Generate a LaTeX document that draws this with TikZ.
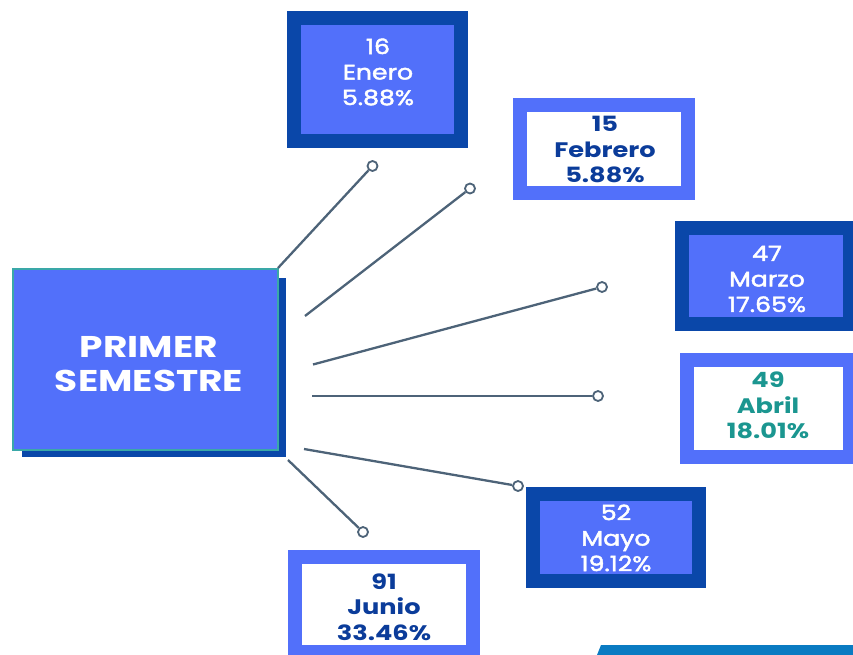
\documentclass[tikz,border=0pt]{standalone}
\usepackage{fontspec}
\setmainfont{Poppins}[FakeStretch=1.22]
\newfontfamily\medfont{Poppins}[FakeStretch=1.2, FakeBold=2.2]
\newfontfamily\bigfont{Poppins}[FakeStretch=1.25]
\definecolor{dkblue}{HTML}{0A47A9}
\definecolor{ltblue}{HTML}{5270FA}
\definecolor{navytxt}{HTML}{0B3C9A}
\definecolor{tealtxt}{HTML}{1B9690}
\definecolor{tealedge}{HTML}{3AA8A8}
\definecolor{linkc}{HTML}{4D6378}
\definecolor{barblue}{HTML}{0A7BC2}
\tikzset{
  darkbox/.style={rectangle, draw=dkblue, fill=ltblue, line width=14pt, inner sep=0pt},
  lightbox/.style={rectangle, draw=ltblue, fill=white, line width=14pt, inner sep=0pt},
  whitetxt/.style={align=center, inner sep=0pt, text=white, font=\medfont\fontsize{21}{25.5}\selectfont},
  navy/.style={align=center, inner sep=0pt, text=navytxt, font=\fontsize{21}{25.5}\selectfont\bfseries},
  tealt/.style={align=center, inner sep=0pt, text=tealtxt, font=\fontsize{21}{25.5}\selectfont\bfseries},
  link/.style={draw=linkc, line width=2.3pt},
  endpt/.style={circle, draw=linkc, fill=white, line width=1.8pt, minimum size=10pt, inner sep=0pt},
}
\begin{document}
\begin{tikzpicture}[x=1pt,y=-1pt]
\useasboundingbox (0,0) rectangle (853,655);
% main box with shadow
\fill[dkblue] (22,278) rectangle (286,457);
\node[rectangle, fill=ltblue, draw=tealedge, line width=2pt, minimum width=265pt, minimum height=181pt, inner sep=0pt] (main) at (145.5,359.5) {};
\node[text=white, align=center, inner sep=0pt, font=\bigfont\fontsize{30}{34}\selectfont\bfseries] (maintxt) at (149,364) {PRIMER\\SEMESTRE};
% month boxes
\node[darkbox, minimum width=167pt, minimum height=123pt] (enero) at (377.5,79.5) {};
\node[whitetxt] (enerot) at (378,72) {16\\Enero\\5.88\%};
\node[lightbox, minimum width=168pt, minimum height=88pt] (febrero) at (604,149) {};
\node[navy] (febrerot) at (605,149.5) {15\\Febrero\\5.88\%};
\node[darkbox, minimum width=168pt, minimum height=96pt] (marzo) at (766,276) {};
\node[whitetxt] (marzot) at (767,279) {47\\Marzo\\17.65\%};
\node[lightbox, minimum width=163pt, minimum height=97pt] (abril) at (768.5,408.5) {};
\node[tealt] (abrilt) at (768,405.5) {49\\Abril\\18.01\%};
\node[darkbox, minimum width=166pt, minimum height=87pt] (mayo) at (616,537.5) {};
\node[whitetxt] (mayot) at (616,538) {52\\Mayo\\19.12\%};
\node[lightbox, minimum width=178pt, minimum height=95pt] (junio) at (384,604.5) {};
\node[navy] (juniot) at (384,607) {91\\Junio\\33.46\%};
% bottom bar
\fill[barblue] (597,655) -- (601,645) -- (853,645) -- (853,655) -- cycle;
% connectors
\coordinate (s1) at (278,268);
\coordinate (s2) at (305,316);
\coordinate (s3) at (313,364.5);
\coordinate (s4) at (312,396);
\coordinate (s5) at (304,449);
\coordinate (s6) at (288,460);
\node[endpt] (e1) at (372.5,166) {};
\node[endpt] (e2) at (470,188.5) {};
\node[endpt] (e3) at (602,287) {};
\node[endpt] (e4) at (598,396) {};
\node[endpt] (e5) at (518,486) {};
\node[endpt] (e6) at (363,532) {};
\draw[link] (s1) -- (e1);
\draw[link] (s2) -- (e2);
\draw[link] (s3) -- (e3);
\draw[link] (s4) -- (e4);
\draw[link] (s5) -- (e5);
\draw[link] (s6) -- (e6);
\end{tikzpicture}
\end{document}
